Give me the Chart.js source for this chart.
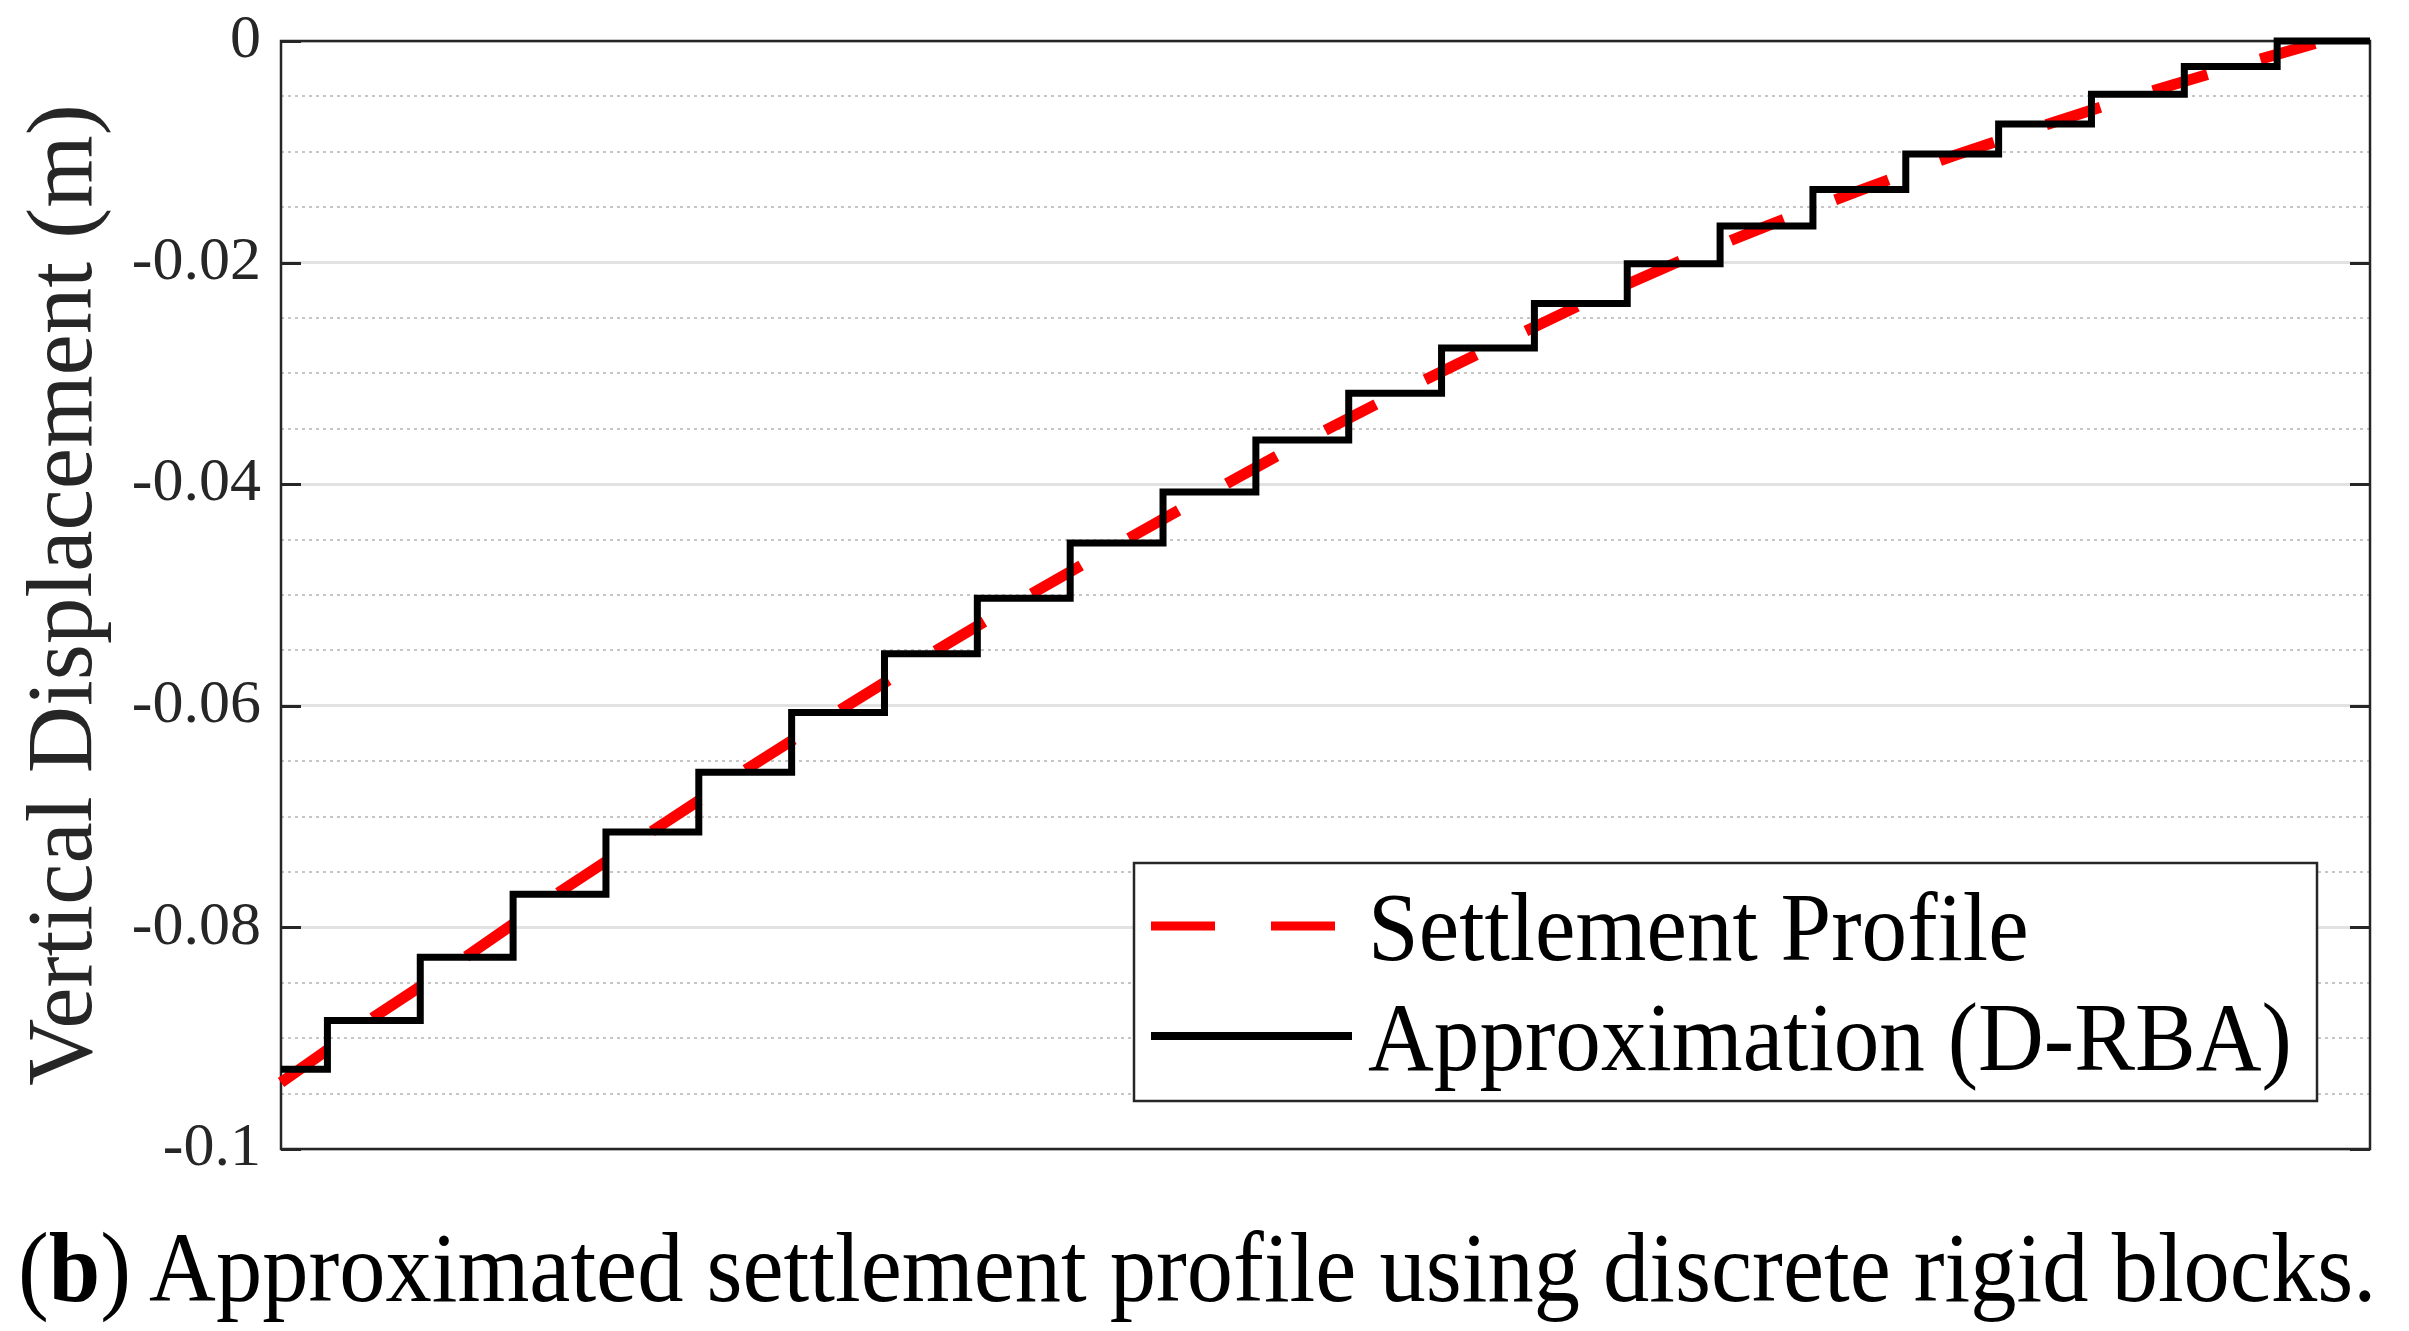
<!DOCTYPE html>
<html>
<head>
<meta charset="utf-8">
<script src="https://cdn.jsdelivr.net/npm/chart.js@4.4.1/dist/chart.umd.min.js"></script>
<style>
  html, body { margin: 0; padding: 0; background: #ffffff; }
  #wrap { position: relative; width: 2409px; height: 1331px; overflow: hidden; }
  #c { position: absolute; left: 0; top: 0; }
  #caption {
    position: absolute; left: 18px; top: 1218px;
    font-family: 'Liberation Serif', serif;
    font-size: 100px; line-height: 1; color: #000; white-space: nowrap;
    transform: scaleX(0.925); transform-origin: 0 0;
  }
</style>
</head>
<body>
<div id="wrap">
  <canvas id="c" width="2409" height="1331"></canvas>
  <div id="caption">(<b>b</b>) Approximated settlement profile using discrete rigid blocks.</div>
</div>
<script>
// ---- data ----
// block centres (in block widths from the left edge)
const blockCenters = [0, 1, 2, 3, 4, 5, 6, 7, 8, 9, 10, 11, 12, 13, 14, 15, 16, 17, 18, 19, 20, 21, 22];
// rigid-block (D-RBA) vertical displacement of each block (m)
const blockDisplacement = [-0.0928, -0.0884, -0.0827, -0.0770, -0.0714, -0.0660, -0.0606, -0.0553,
  -0.0503, -0.0453, -0.0407, -0.0360, -0.0318, -0.0277, -0.0237, -0.0201, -0.0167, -0.0134,
  -0.0102, -0.0075, -0.0048, -0.0023, 0.0];
// settlement profile sampled at the block centres (m)
const profilePositions = [0, 1, 2, 3, 4, 5, 6, 7, 8, 9, 10, 11, 12, 13, 14, 15, 16, 17, 18, 19, 20, 21, 22];
const profileDisplacement = [-0.0940, -0.0881, -0.0826, -0.0768, -0.0713, -0.0658, -0.0605, -0.0553,
  -0.0503, -0.0455, -0.0408, -0.0362, -0.0319, -0.0278, -0.0238, -0.0201, -0.0167, -0.0135,
  -0.0104, -0.0076, -0.0049, -0.0024, 0.0];
const seriesLabels = ['Settlement Profile', 'Approximation (D-RBA)'];
const yTickValues = [0, -0.02, -0.04, -0.06, -0.08, -0.1];
const yTickLabels = ['0', '-0.02', '-0.04', '-0.06', '-0.08', '-0.1'];
const yAxisTitle = 'Vertical Displacement (m)';
const xRange = [0, 22.5];   // axis runs to the right edge of the last block
const yRange = [-0.1, 0];
const yMinorStep = 0.005;

// ---- helpers ----
const SERIF = 'Liberation Serif';
const AXIS_COLOR = '#262626';
Chart.defaults.font.family = SERIF;
const isMajor = v => yTickValues.some(t => Math.abs(t - v) < 1e-9);

const frameAndTicks = {
  id: 'frameAndTicks',
  beforeDatasetsDraw(chart) {
    const {ctx, chartArea: a, scales: {y}} = chart;
    ctx.save();
    ctx.strokeStyle = AXIS_COLOR;
    ctx.lineWidth = 2.5;
    ctx.setLineDash([]);
    ctx.strokeRect(a.left, a.top, a.right - a.left, a.bottom - a.top);
    ctx.lineWidth = 3;
    const len = 20;
    yTickValues.forEach(v => {
      const py = Math.round(y.getPixelForValue(v)) + 0.5;
      ctx.beginPath();
      ctx.moveTo(a.left, py); ctx.lineTo(a.left + len, py);
      ctx.moveTo(a.right, py); ctx.lineTo(a.right - len, py);
      ctx.stroke();
    });
    ctx.restore();
  }
};

const boxedLegend = {
  id: 'boxedLegend',
  afterDatasetsDraw(chart) {
    const {ctx, chartArea: a} = chart;
    const right = a.right - 53, bottom = a.bottom - 48;
    const left = right - 1183, top = bottom - 238;
    ctx.save();
    ctx.fillStyle = '#ffffff';
    ctx.fillRect(left, top, right - left, bottom - top);
    ctx.strokeStyle = AXIS_COLOR;
    ctx.lineWidth = 2.5;
    ctx.setLineDash([]);
    ctx.strokeRect(left, top, right - left, bottom - top);
    const rows = [top + 63, top + 173];
    const legendDash = [[64, 56], []];
    chart.data.datasets.forEach((ds, i) => {
      const yy = rows[i];
      ctx.beginPath();
      ctx.strokeStyle = ds.borderColor;
      ctx.lineWidth = i === 0 ? 9 : 8;
      ctx.lineCap = 'butt';
      ctx.setLineDash(legendDash[i]);
      ctx.moveTo(left + 17, yy);
      ctx.lineTo(left + 218, yy);
      ctx.stroke();
      ctx.setLineDash([]);
      ctx.save();
      ctx.translate(left + 234, yy + 34);
      ctx.scale(0.93, 1);
      ctx.fillStyle = '#000000';
      ctx.font = '98px ' + SERIF;
      ctx.textBaseline = 'alphabetic';
      ctx.textAlign = 'left';
      ctx.fillText(ds.label, 0, 0);
      ctx.restore();
    });
    ctx.restore();
  }
};

const lastBlock = blockDisplacement[blockDisplacement.length - 1];
const approxData = blockCenters.map((x, i) => ({x, y: blockDisplacement[i]}));
approxData.push({x: xRange[1], y: lastBlock});
const profileData = profilePositions.map((x, i) => ({x, y: profileDisplacement[i]}));

new Chart(document.getElementById('c'), {
  type: 'line',
  data: {
    datasets: [
      {
        label: seriesLabels[0],
        data: profileData,
        borderColor: '#ff0000',
        borderWidth: 11,
        borderDash: [57, 55],
        borderCapStyle: 'butt',
        pointRadius: 0,
        fill: false,
        tension: 0,
        order: 1,
        clip: false
      },
      {
        label: seriesLabels[1],
        data: approxData,
        stepped: 'middle',
        borderColor: '#000000',
        borderWidth: 7,
        borderJoinStyle: 'miter',
        borderCapStyle: 'butt',
        pointRadius: 0,
        fill: false,
        order: 0,
        clip: false
      }
    ]
  },
  options: {
    responsive: false,
    devicePixelRatio: 1,
    animation: false,
    events: [],
    layout: { padding: { left: 0, top: 41, right: 39, bottom: 182 } },
    plugins: { legend: { display: false }, tooltip: { enabled: false }, title: { display: false } },
    scales: {
      x: { type: 'linear', min: xRange[0], max: xRange[1], display: false },
      y: {
        type: 'linear',
        min: yRange[0], max: yRange[1],
        afterFit(scale) { scale.width = 281; },
        ticks: {
          stepSize: yMinorStep,
          autoSkip: false,
          padding: 0,
          color: AXIS_COLOR,
          font: { family: SERIF, size: 62 },
          callback(v) {
            const i = yTickValues.findIndex(t => Math.abs(t - v) < 1e-9);
            return i >= 0 ? yTickLabels[i] : '';
          }
        },
        grid: {
          drawTicks: true,
          tickLength: 20,
          tickColor: 'rgba(0,0,0,0)',
          color: c => isMajor(c.tick.value) ? '#e2e2e2' : '#c6c6c6',
          lineWidth: c => isMajor(c.tick.value) ? 3 : 2
        },
        border: {
          display: false,
          dash: c => (c.tick && isMajor(c.tick.value)) ? [] : [3, 4]
        },
        title: {
          display: true,
          text: yAxisTitle,
          color: AXIS_COLOR,
          font: { family: SERIF, size: 93 },
          padding: { top: 11, bottom: 0 }
        }
      }
    }
  },
  plugins: [frameAndTicks, boxedLegend]
});
</script>
</body>
</html>
